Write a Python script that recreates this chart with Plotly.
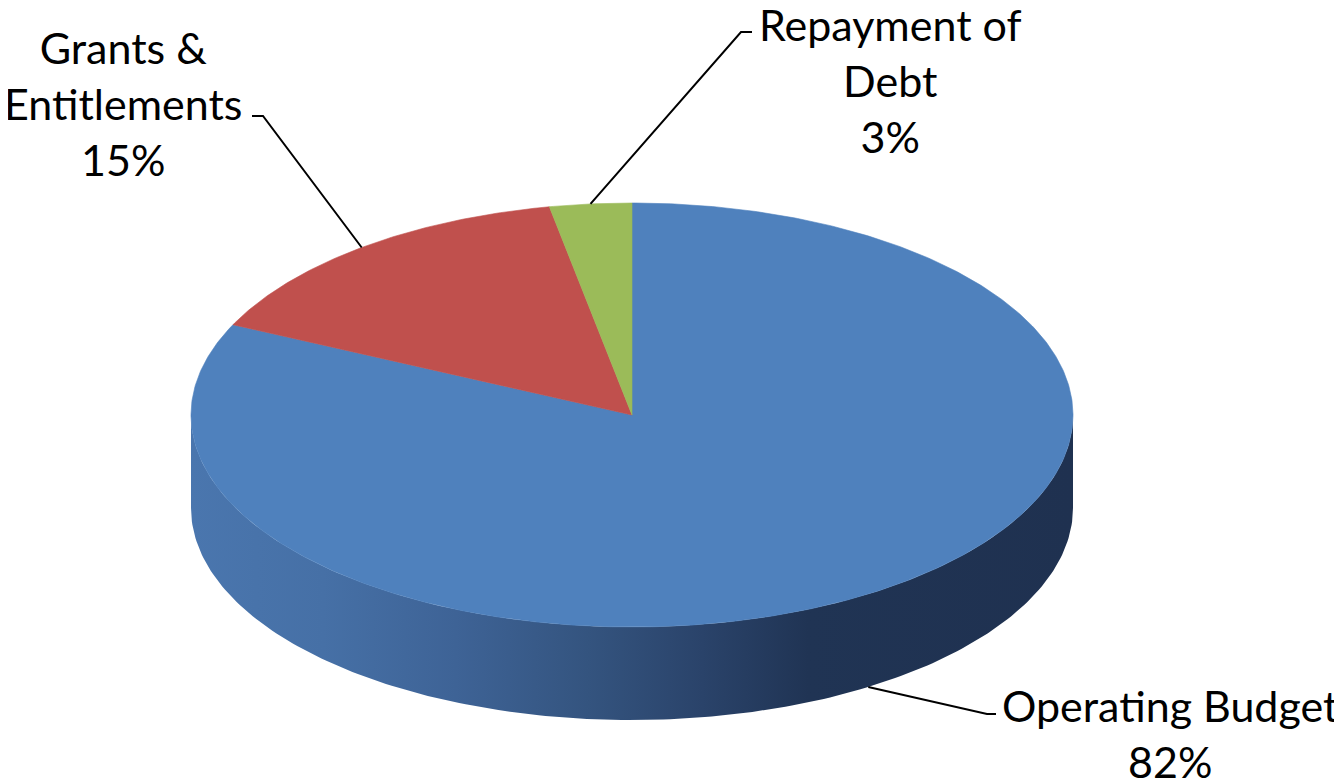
import numpy as np
import plotly.graph_objects as go

# ---- data ----
categories = ["Operating Budget", "Grants & Entitlements", "Repayment of Debt"]
label_text = ["Operating Budget", "Grants &<br>Entitlements", "Repayment of<br>Debt"]
values = [82, 15, 3]
colors = ["#4F81BD", "#C0504D", "#9BBB59"]

# ---- geometry / style (pixel-like coordinate system) ----
W, H = 1342, 779
OFF = 8                # page body margin compensation
CX, CY = 632, 415      # pie centre
RX, RY = 441, 212      # ellipse radii of the tilted top face
DEPTH = 93             # thickness of the pie
FONT = "Lato"
FS = 43

total = sum(values)
fracs = [v / total for v in values]
starts = np.cumsum([0] + fracs[:-1]) * 360.0
ends = np.cumsum(fracs) * 360.0


def pt(theta_deg, dy=0.0):
    t = np.radians(theta_deg)
    return CX + RX * np.sin(t), CY - RY * np.cos(t) + dy


fig = go.Figure()

# side wall (visible front half: 90deg (right) -> 270deg (left)), covered by the first slice
front = np.linspace(90, 270, 200)
xs_top, ys_top = pt(front)
xs_bot, ys_bot = pt(front[::-1], DEPTH)
side_x = np.concatenate([xs_top, xs_bot, xs_top[:1]])
side_y = np.concatenate([ys_top, ys_bot, ys_top[:1]])
fig.add_trace(go.Scatter(
    x=side_x, y=side_y, mode="lines", fill="toself",
    line=dict(width=0, color="rgba(0,0,0,0)"),
    fillgradient=dict(
        type="horizontal",
        colorscale=[[0, "#4A76AE"], [0.15, "#4670A6"], [0.3, "#3E6396"],
                    [0.45, "#34547F"], [0.58, "#2A436A"], [0.7, "#203454"],
                    [1, "#1F3150"]],
    ),
    hoverinfo="skip", showlegend=False,
))

# top faces of the slices
for cat, s, e, c in zip(categories, starts, ends, colors):
    th = np.linspace(s, e, max(int((e - s) * 2), 8))
    ax, ay = pt(th)
    px = np.concatenate([[CX], ax, [CX]])
    py = np.concatenate([[CY], ay, [CY]])
    fig.add_trace(go.Scatter(
        x=px, y=py, mode="lines", fill="toself", fillcolor=c,
        line=dict(width=0.6, color=c), name=cat,
        hoverinfo="name", showlegend=False,
    ))

# labels and leader lines
mids = (starts + ends) / 2
label_pos = {
    "Operating Budget": dict(x=1170, y=733, elbow=(987, 714), tick=(996, 714), on_side=True),
    "Grants & Entitlements": dict(x=123, y=103, elbow=(263, 116), tick=(252, 116), on_side=False),
    "Repayment of Debt": dict(x=890, y=80, elbow=(741, 32), tick=(752, 32), on_side=False),
}
for cat, txt, v, m in zip(categories, label_text, values, mids):
    lp = label_pos[cat]
    ex, ey = pt(m, DEPTH if lp["on_side"] else 0)
    fig.add_trace(go.Scatter(
        x=[ex, lp["elbow"][0], lp["tick"][0]],
        y=[ey, lp["elbow"][1], lp["tick"][1]],
        mode="lines", line=dict(color="black", width=2),
        hoverinfo="skip", showlegend=False,
    ))
    fig.add_annotation(
        x=lp["x"], y=lp["y"], text=f"{txt}<br>{v}%", showarrow=False,
        font=dict(family=FONT, size=FS, color="black"), align="center",
        xanchor="center", yanchor="middle",
    )

fig.update_layout(
    width=W, height=H, margin=dict(l=0, r=0, t=0, b=0),
    paper_bgcolor="white", plot_bgcolor="white",
    xaxis=dict(range=[OFF, W + OFF], visible=False, fixedrange=True),
    yaxis=dict(range=[H + OFF, OFF], visible=False, fixedrange=True),
)

fig.write_html("out.html")
